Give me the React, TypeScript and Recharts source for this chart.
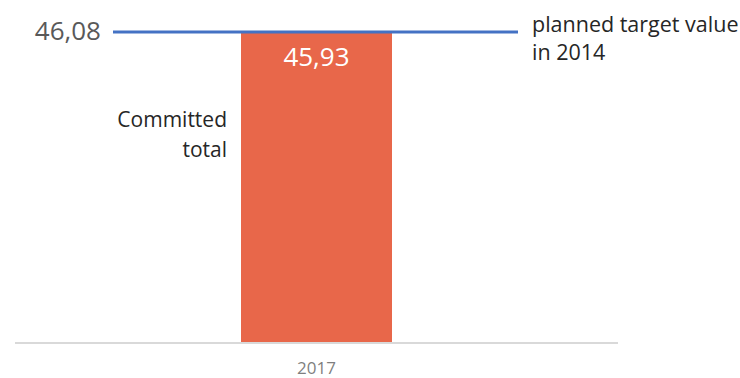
import { BarChart, Bar, XAxis, YAxis, ReferenceLine, LabelList } from 'recharts';

const years = ['2017'];
const committedTotal = [45.93];
const plannedTarget = 46.08;
const barLabel = ['Committed', 'total'];
const targetLabel = ['planned target value', 'in 2014'];

const data = years.map((year, i) => ({ year, committed: committedTotal[i] }));

const fmt = (v: number) => v.toFixed(2).replace('.', ',');

const TargetLine = (props: any) => {
  const { x1, x2, y1 } = props;
  return (
    <g>
      <line x1={x1 + 98} x2={x2 - 100} y1={y1} y2={y1} stroke="#4472C4" strokeWidth={3} />
      <text x={x1 + 86} y={y1 + 8} textAnchor="end" fontSize={26} fill="#595959">
        {fmt(plannedTarget)}
      </text>
      {targetLabel.map((line, i) => (
        <text key={line} x={x2 - 86} y={y1 + i * 28} fontSize={21.5} fill="#262626">
          {line}
        </text>
      ))}
    </g>
  );
};

const SideLabel = (props: any) => {
  const { x, y } = props;
  return (
    <g>
      {barLabel.map((line, i) => (
        <text key={line} x={x - 14} y={y + 94 + i * 30} textAnchor="end" fontSize={21} fill="#262626">
          {line}
        </text>
      ))}
    </g>
  );
};

export default function App() {
  return (
    <div style={{ position: 'absolute', left: 0, top: 0, width: 740, height: 378, background: '#fff' }}>
      <BarChart
        width={740}
        height={378}
        data={data}
        margin={{ top: 32, right: 122, left: 15, bottom: 0 }}
        style={{ fontFamily: '"Open Sans", sans-serif' }}
      >
        <XAxis
          dataKey="year"
          axisLine={{ stroke: '#d9d9d9', strokeWidth: 2 }}
          tickLine={false}
          tickMargin={13}
          height={35}
          tick={{ fill: '#7f7f7f', fontSize: 17 }}
        />
        <YAxis hide domain={[0, plannedTarget]} />
        <Bar dataKey="committed" fill="#E8674A" barSize={151} isAnimationActive={false}>
          <LabelList
            dataKey="committed"
            position="insideTop"
            offset={15}
            fill="#ffffff"
            fontSize={26}
            formatter={(v: any) => fmt(Number(v))}
          />
          <LabelList dataKey="committed" content={<SideLabel />} />
        </Bar>
        <ReferenceLine y={plannedTarget} shape={<TargetLine />} ifOverflow="visible" />
      </BarChart>
    </div>
  );
}
